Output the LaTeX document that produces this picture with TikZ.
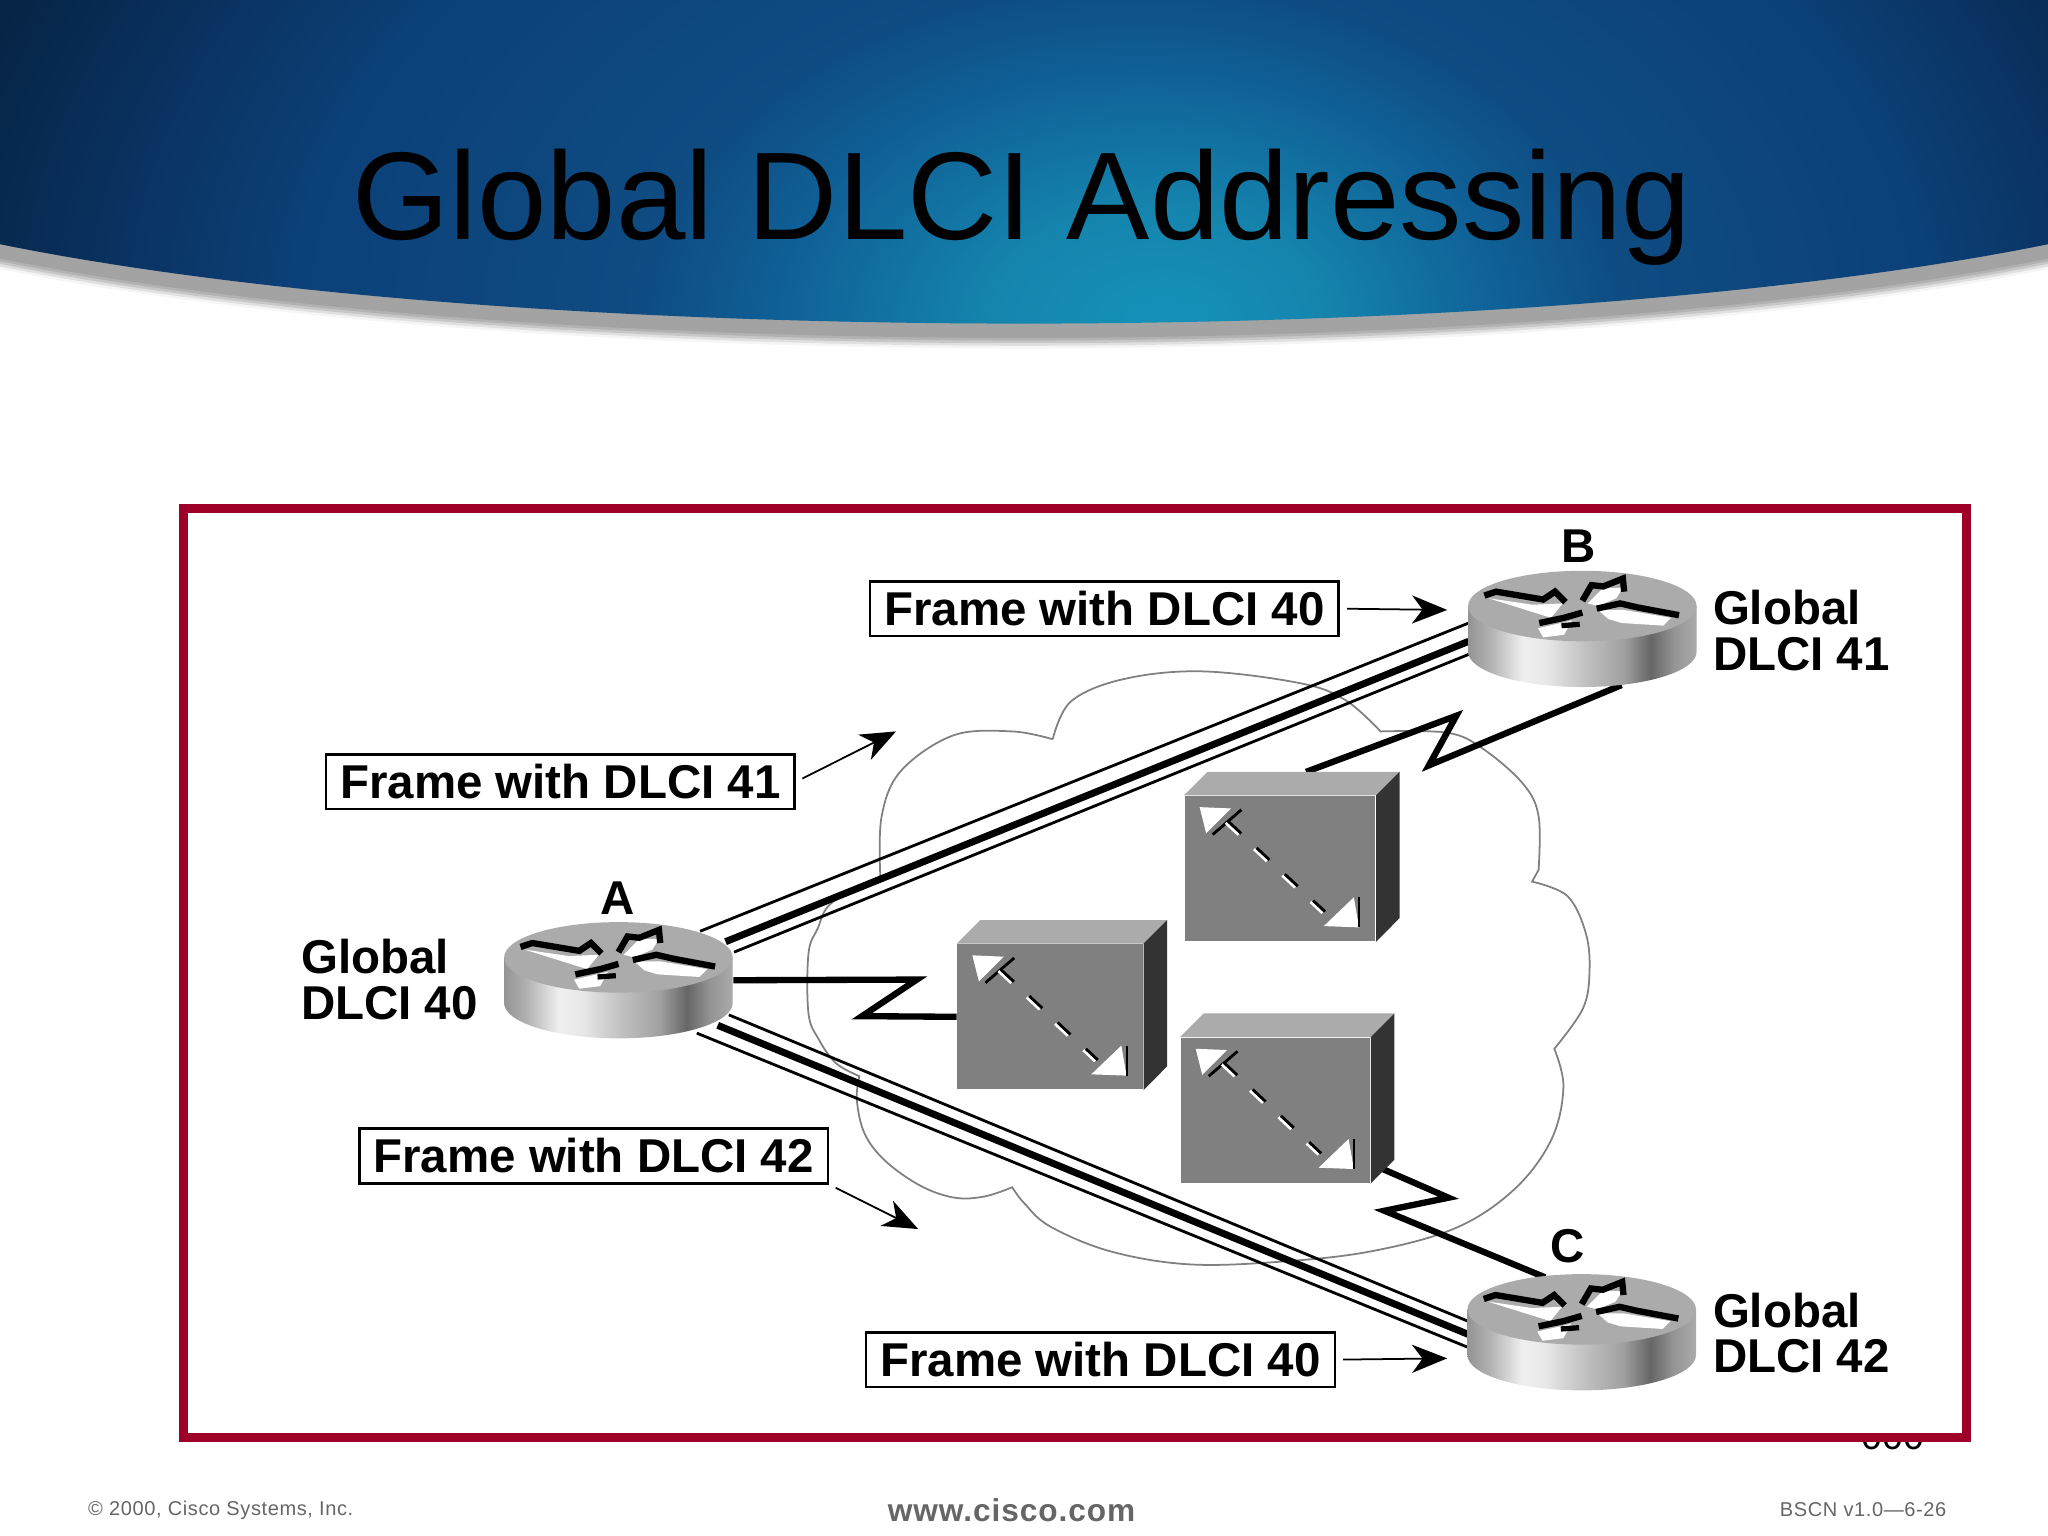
\documentclass[tikz,border=0pt]{standalone}
\usepackage{fontspec}
\setmainfont{Liberation Sans}
\newfontfamily\footfont[LetterSpace=3]{Liberation Sans}
\usetikzlibrary{arrows.meta}
\newdimen\Upx
\Upx=0.0130612cm
\definecolor{framered}{HTML}{9E0027}
\definecolor{headA}{HTML}{1592BA}
\definecolor{headB}{HTML}{1585AE}
\definecolor{headC}{HTML}{0F5F96}
\definecolor{headD}{HTML}{0E4C82}
\definecolor{headE}{HTML}{0C4078}
\definecolor{headF}{HTML}{082C55}
\definecolor{headG}{HTML}{05203C}
\pgfdeclareradialshading{headshade}{\pgfpoint{3.5bp}{0bp}}{
  color(0bp)=(headA);
  color(4bp)=(headB);
  color(9bp)=(headC);
  color(12bp)=(headD);
  color(20bp)=(headE);
  color(26bp)=(headF);
  color(30bp)=(headG);
  color(50bp)=(headG)}
\pgfdeclarehorizontalshading{routerside}{100bp}{
  color(0bp)=(black!42);
  color(25bp)=(black!42);
  color(30bp)=(black!30);
  color(37bp)=(black!6);
  color(42bp)=(black!9);
  color(51bp)=(black!25);
  color(59bp)=(black!37);
  color(65bp)=(black!60);
  color(70bp)=(black!42);
  color(75bp)=(black!33);
  color(100bp)=(black!33)}
\def\headcurve#1{(0,187+#1) .. controls (400,268+#1) and (1168,268+#1) .. (1568,187+#1)}
\tikzset{
  framebox/.style={draw,line width=.75pt,minimum width=359\Upx,minimum height=42\Upx,inner sep=0pt,font=\bfseries\fontsize{13.5}{13}\selectfont},
  routerbox/.style={minimum width=175\Upx,minimum height=89\Upx,inner sep=0pt},
  switchbox/.style={fill=black!50,minimum height=111\Upx,inner sep=0pt},
  thinline/.style={line width=.8pt},
  thickline/.style={line width=2pt},
  zigline/.style={line width=1.8pt,miter limit=10},
  framearrow/.style={line width=.5pt,shorten <=2pt,-{Stealth[length=10pt,width=8pt,inset=3pt]}},
  cloudline/.style={draw=black!50,line width=.5pt},
  boldtext/.style={font=\bfseries\fontsize{13.5}{13}\selectfont,inner sep=0pt,align=left},
  foottext/.style={font=\footfont\fontsize{5.7}{6}\selectfont,text=black!60,inner sep=0pt}
}
\begin{document}
\begin{tikzpicture}[x=\Upx,y=-\Upx]
  \useasboundingbox (0,0) rectangle (1568,1176);
  \fill[white] (0,0) rectangle (1568,1176);
  \foreach \d/\c in {19/4,17/12,15/22,13/30,11/36}
    \fill[black!\c] (0,0) -- \headcurve{\d} -- (1568,0) -- cycle;
  \begin{scope}
    \clip (0,0) -- \headcurve{0} -- (1568,0) -- cycle;
    \shade[shading=headshade] (0,-300) rectangle (1568,800);
  \end{scope}
  \node[font=\fontsize{35.5}{36}\selectfont,inner sep=0pt] (title) at (782.5,159) {Global DLCI Addressing};
  \node[font=\fontsize{10.7}{11}\selectfont,inner sep=0pt] (pagenum) at (1449,1100) {000};
  \draw[framered,line width=2.6pt,fill=white] (140.5,389.5) rectangle (1505.5,1100.5);
  \node[foottext] (copyright) at (169,1156) {© 2000, Cisco Systems, Inc.};
  \node[foottext,font=\footfont\bfseries\fontsize{9}{9}\selectfont] (url) at (774.5,1156) {www.cisco.com};
  \node[foottext] (course) at (1426.5,1156) {BSCN v1.0—6-26};

  \draw[cloudline] plot[smooth,tension=.6] coordinates {(806,566) (820,537) (860,520) (920,514) (995,523) (1030,536) (1057,560)}
    -- plot[smooth,tension=.6] coordinates {(1057,560) (1108,561) (1135,573) (1166,600) (1178,625) (1178,666)}
    -- (1173,675)
    -- plot[smooth,tension=.6] coordinates {(1173,675) (1200,686) (1214,714) (1217,743) (1212,772) (1190,803)}
    -- plot[smooth,tension=.6] coordinates {(1190,803) (1197,832) (1188,872) (1160,910) (1115,940) (1050,958) (980,966) (910,968) (850,958) (804,939) (784,921) (775,909)}
    -- plot[smooth,tension=.6] coordinates {(775,909) (754,916) (731,917) (705,908) (678,889) (662,868) (656,842) (658,824)}
    -- plot[smooth,tension=.6] coordinates {(658,824) (640,814) (627,796) (619,776) (619,730) (626,711) (637,691) (674,671)}
    -- plot[smooth,tension=.6] coordinates {(674,671) (675,625) (690,590) (730,563) (775,560) (806,566)};

  \foreach \n/\x/\y in {A/473.5/750.5,B/1211.5/481.5,C/1211/1020}
    \node[routerbox] (\n) at (\x,\y) {};
  \foreach \n/\x/\y/\w in {switchA/980/665/146,switchB/804/778.5/142,switchC/976.5/850/145}
    \node[switchbox,minimum width=\w\Upx] (\n) at (\x,\y) {};

  \foreach \a/\b/\c/\s in {62.5/-37.5/-4.5/thinline,82/-29.5/9.5/thickline,88.5/-21.5/19.5/thinline}
    \draw[\s] ([shift={(\a,\b)}]A.center) -- ([shift={(-87,\c)}]B.center);
  \foreach \a/\b/\c/\s in {84.5/26.5/-8/thinline,76/34.5/2/thickline,60/40.5/12/thinline}
    \draw[\s] ([shift={(\a,\b)}]A.center) -- ([shift={(-86,\c)}]C.center);
  \draw[zigline] (A.east) -- (702,750) -- (660,778) -- (switchB.west);
  \draw[zigline] ([shift={(20,-18)}]switchA.north) -- (1115,548) -- (1094,586) -- ([shift={(30,-2)}]B.south);
  \draw[zigline] ([shift={(9,45)}]switchC.east) -- (1109,917) -- (1060,927) -- ([shift={(-28,-42)}]C.center);

  \foreach \n in {switchA,switchB,switchC} {
    \fill[black!33] (\n.north west) -- ++(18,-18) -- ([shift={(18,-18)}]\n.north east) -- (\n.north east) -- cycle;
    \fill[black!80] (\n.north east) -- ++(18,-18) -- ++(0,112) -- (\n.south east) -- cycle;
    \begin{scope}[shift={(\n.north west)}]
      \fill[white] (12,9) -- (36,10) -- (17,29) -- cycle;
      \draw[line width=.8pt] (44,11) -- (22,30);
      \draw[white,line width=.8pt,dash pattern=on 5pt off 6pt] (32,21) -- (106,90);
      \draw[line width=.8pt,dash pattern=on 5pt off 6pt] (34,20) -- (108,89);
    \end{scope}
    \begin{scope}[shift={(\n.south east)}]
      \fill[white] (-13,-11) -- (-40,-12) -- (-17,-34) -- cycle;
      \draw[line width=.6pt] (-13,-34) -- (-13,-11);
    \end{scope}
  }

  \foreach \n in {A,B,C} {
    \begin{scope}[shift={(\n.center)}]
      \shade[shading=routerside] (-87.5,-17.5) -- (-87.5,17.5) arc[start angle=180,end angle=0,x radius=87.5,y radius=27] -- (87.5,-17.5) -- cycle;
      \fill[black!33] (0,-17.5) ellipse [x radius=87.5,y radius=27];
      \begin{scope}[shift={(0,-17.5)}]
        \fill[white] (-72,-6) -- (-38,-1) -- (-15,-2) -- (-24,9) -- (-40,4) -- cycle;
        \fill[white] (4,-2) -- (16,-14) -- (31,-14) -- (26,-6) -- (12,0) -- cycle;
        \fill[white] (12,3) -- (32,3) -- (68,9) -- (62,15) -- (30,13) -- (20,10) -- cycle;
        \fill[white] (-34,17) -- (-8,11) -- (-14,22) -- (-30,24) -- cycle;
        \draw[line width=1.8pt] (-75,-8) -- (-66,-11) -- (-30,-5) -- (-21,-11) -- (-13,-3);
        \draw[line width=1.8pt] (0,-4) -- (7,-16) -- (16,-15) -- (31,-21) -- (32,-11);
        \draw[line width=1.8pt] (11,2) -- (29,-2) -- (42,1) -- (74,7);
        \draw[line width=1.8pt] (-33,13) -- (-14,9) -- (0,5);
        \draw[line width=1.5pt] (-16,15) -- (-2,14);
      \end{scope}
    \end{scope}
  }

  \foreach \n/\x/\y/\l in {labelA/473/688/A,labelB/1209/418/B,labelC/1200/954/C}
    \node[boldtext] (\n) at (\x,\y) {\l};
  \foreach \n/\x/\y/\l in {globalA/230/750/40,globalB/1311/482.5/41,globalC/1311/1020.5/42}
    \node[boldtext,anchor=west] (\n) at (\x,\y) {Global\\DLCI \l};

  \foreach \n/\x/\y/\l in {frameB/845.5/466/40,frameA/429/598.5/41,frameD/454.5/885/42,frameC/842.5/1041/40}
    \node[framebox] (\n) at (\x,\y) {Frame with DLCI \l};
  \coordinate (tipB) at (1108,467);
  \coordinate (tipA) at (686,560);
  \coordinate (tipD) at (703,941);
  \coordinate (tipC) at (1108,1040);
  \draw[framearrow] (frameB.east) -- (tipB);
  \draw[framearrow] (frameA.east) -- (tipA);
  \draw[framearrow] (frameD.south east) -- (tipD);
  \draw[framearrow] (frameC.east) -- (tipC);
\end{tikzpicture}
\end{document}
